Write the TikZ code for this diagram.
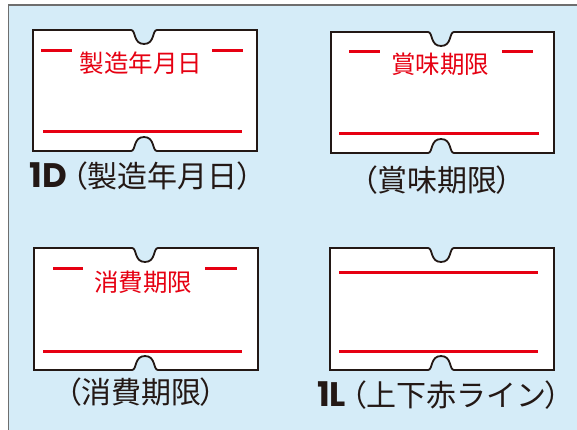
\documentclass[tikz,border=0pt]{standalone}
\usepackage{fontspec}
\setmainfont{Noto Sans CJK JP}
\newfontfamily\numfont{Poppins}
\definecolor{tagred}{HTML}{E60012}
\definecolor{tagblack}{HTML}{231815}
\definecolor{panelbg}{HTML}{D5ECF8}
\definecolor{panelline}{HTML}{6E6E6E}
\newcommand{\drawtag}[5]{%
  \draw[tagedge] (#1,#2) -- ({#5-13},#2)
    .. controls ({#5-8},#2) and ({#5-11},{#2+14}) .. (#5,{#2+14})
    .. controls ({#5+11},{#2+14}) and ({#5+8},#2) .. ({#5+13},#2)
    -- (#3,#2) -- (#3,#4) -- ({#5+13},#4)
    .. controls ({#5+8},#4) and ({#5+11},{#4-14}) .. (#5,{#4-14})
    .. controls ({#5-11},{#4-14}) and ({#5-8},#4) .. ({#5-13},#4)
    -- (#1,#4) -- cycle;}
\newcommand{\paren}[1]{{\addfontfeature{RawFeature=+palt}#1}}
\newcommand{\capnum}[1]{{\numfont\bfseries\fontsize{34}{30}\selectfont #1}\kern5pt}
\begin{document}
\begin{tikzpicture}[x=1pt,y=-1pt,
  tagedge/.style={draw=tagblack,line width=1.8pt,fill=white,line join=miter},
  redline/.style={draw=tagred,line width=3pt},
  redtext/.style={text=tagred,font=\fontsize{24.5}{24.5}\selectfont,inner sep=0pt},
  captext/.style={text=tagblack,font=\fontsize{30}{30}\selectfont,inner sep=0pt},
  ]
\useasboundingbox (0,0) rectangle (577,430);
\fill[white] (0,0) rectangle (577,430);
\fill[panelbg] (8.5,5) rectangle (590,440);
\draw[panelline,line width=1.5pt] (8.5,440) -- (8.5,5) -- (590,5);

% tag 1
\drawtag{33}{30}{257}{151}{144}
\coordinate (d1a) at (41,51); \coordinate (d1b) at (72,51);
\coordinate (d1c) at (212,51); \coordinate (d1d) at (243,51);
\coordinate (l1a) at (43,132); \coordinate (l1b) at (242,132);
\draw[redline] (d1a) -- (d1b);
\draw[redline] (d1c) -- (d1d);
\draw[redline] (l1a) -- (l1b);
\node[redtext] (t1) at (141,63) {製造年月日};
\node[captext] (c1) at (141,176) {\capnum{1D}\paren{（}製造年月日\paren{）}};

% tag 2
\drawtag{331}{32}{554}{153}{441}
\coordinate (d2a) at (349,52); \coordinate (d2b) at (380,52);
\coordinate (d2c) at (502,52); \coordinate (d2d) at (533,52);
\coordinate (l2a) at (339,134); \coordinate (l2b) at (539,134);
\draw[redline] (d2a) -- (d2b);
\draw[redline] (d2c) -- (d2d);
\draw[redline] (l2a) -- (l2b);
\node[redtext] (t2) at (440,64) {賞味期限};
\node[captext] (c2) at (437,180) {\paren{（}賞味期限\paren{）}};

% tag 3
\drawtag{34}{248}{258}{370}{145}
\coordinate (d3a) at (53,268); \coordinate (d3b) at (83,268);
\coordinate (d3c) at (205,268); \coordinate (d3d) at (237,268);
\coordinate (l3a) at (43,351); \coordinate (l3b) at (242,351);
\draw[redline] (d3a) -- (d3b);
\draw[redline] (d3c) -- (d3d);
\draw[redline] (l3a) -- (l3b);
\node[redtext] (t3) at (143,282) {消費期限};
\node[captext] (c3) at (141,392) {\paren{（}消費期限\paren{）}};

% tag 4
\drawtag{330}{248}{554}{370}{441}
\coordinate (l4a) at (339,272); \coordinate (l4b) at (538,272);
\coordinate (l4c) at (339,351); \coordinate (l4d) at (538,351);
\draw[redline] (l4a) -- (l4b);
\draw[redline] (l4c) -- (l4d);
\node[captext] (c4) at (439,395) {\capnum{1L}\paren{（}上下赤ライン\paren{）}};
\end{tikzpicture}
\end{document}
